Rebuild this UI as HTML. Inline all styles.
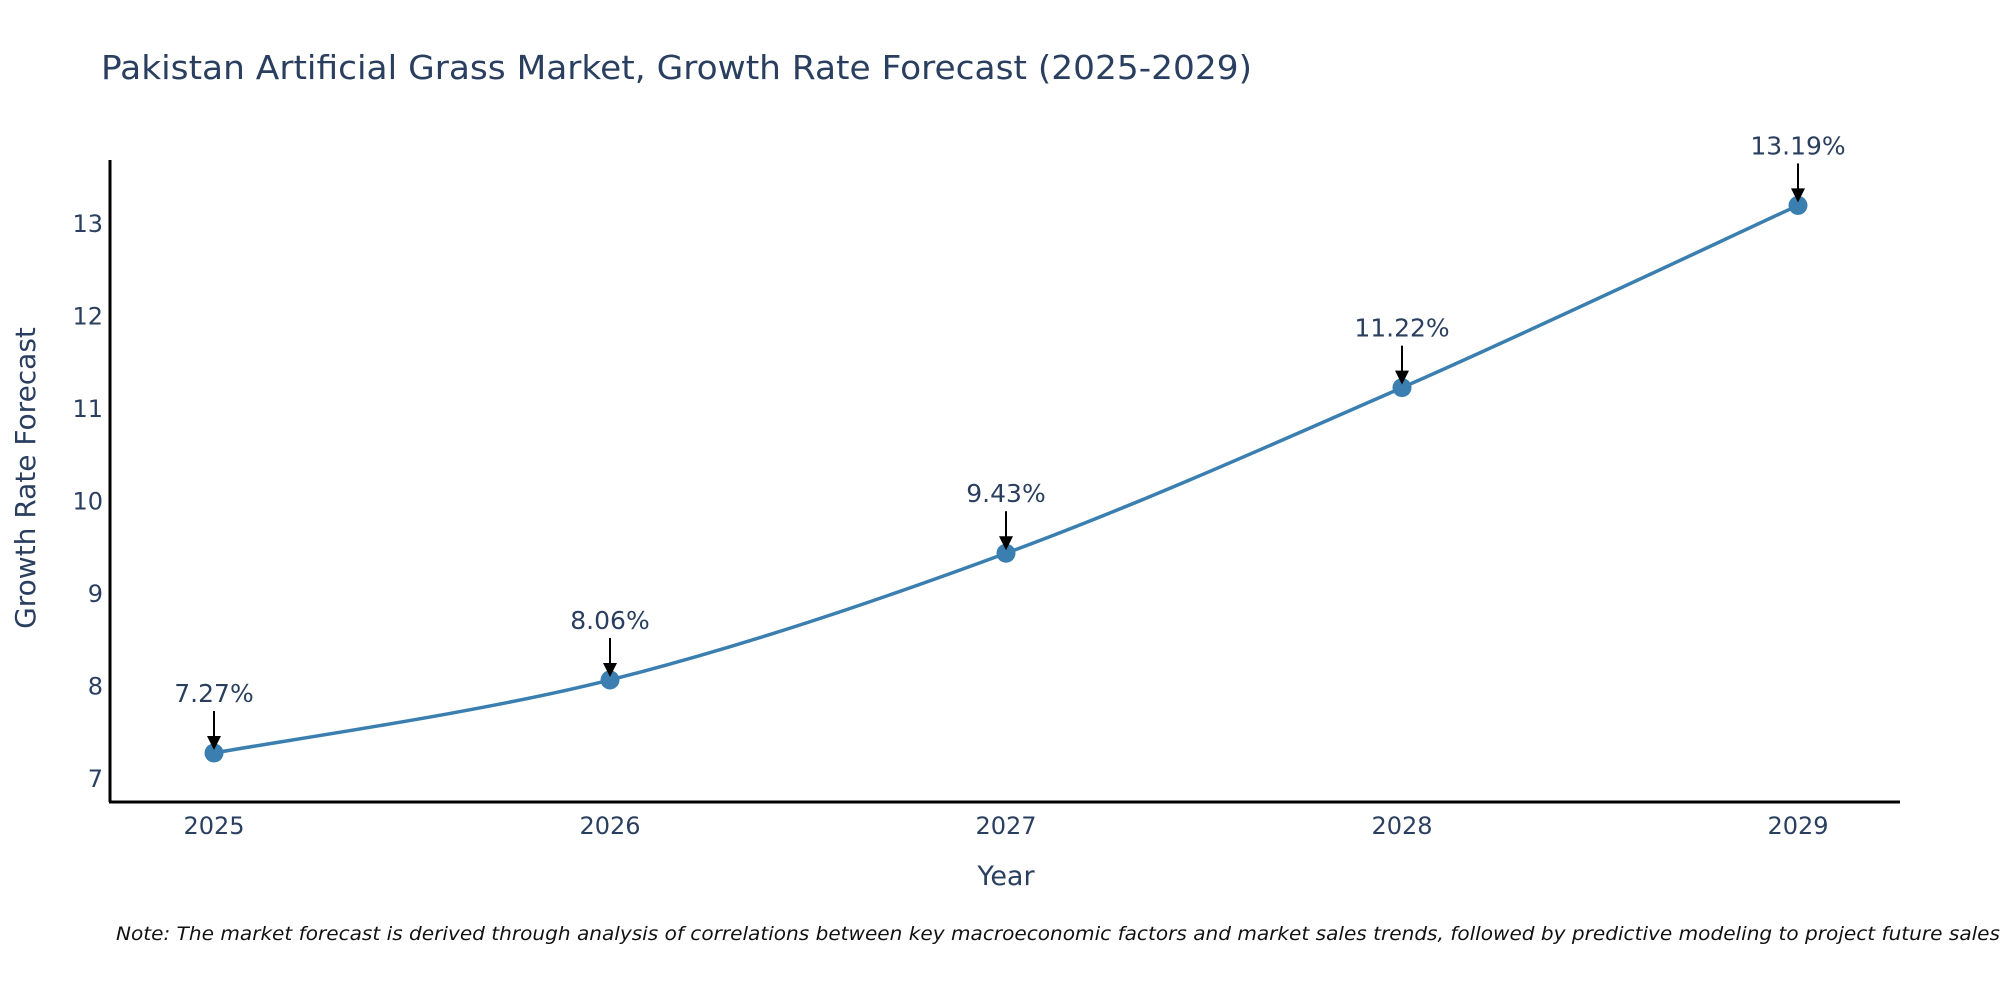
<!DOCTYPE html>
<html><head><meta charset="utf-8">
<style>
html,body{margin:0;padding:0;background:#fff;}
svg{display:block;font-family:"DejaVu Sans","Liberation Sans",sans-serif;}
</style></head>
<body>
<svg id="chart" width="2000" height="1000" viewBox="0 0 2000 1000" xmlns="http://www.w3.org/2000/svg">
  <rect width="2000" height="1000" fill="#fff"/>
  <text x="101" y="79" font-size="33" fill="#2a3f5f" textLength="1151" lengthAdjust="spacingAndGlyphs">Pakistan Artificial Grass Market, Growth Rate Forecast (2025-2029)</text>
  <g id="yticks"></g>
  <g id="xticks"></g>
  <line x1="110" y1="160" x2="110" y2="802" stroke="#000" stroke-width="3"/>
  <line x1="109" y1="802" x2="1900" y2="802" stroke="#000" stroke-width="3"/>
  <text transform="translate(35,478) rotate(-90)" text-anchor="middle" font-size="28" fill="#2a3f5f">Growth Rate Forecast</text>
  <text x="1006" y="885" text-anchor="middle" font-size="27" fill="#2a3f5f">Year</text>
  <g id="series"></g>
  <text x="116" y="940" font-size="19" font-style="italic" fill="#111" textLength="1884" lengthAdjust="spacingAndGlyphs">Note: The market forecast is derived through analysis of correlations between key macroeconomic factors and market sales trends, followed by predictive modeling to project future sales</text>
</svg>
<script>
const years = ["2025","2026","2027","2028","2029"];
const values = [7.27, 8.06, 9.43, 11.22, 13.19];
const valueLabels = ["7.27%","8.06%","9.43%","11.22%","13.19%"];
const yTicks = [7, 8, 9, 10, 11, 12, 13];

const NS = "http://www.w3.org/2000/svg";
function xScale(i){ return 214 + i * 396; }
function yScale(v){ return 778 - (v - 7) * 92.5; }
function mk(tag, attrs, parent){
  const e = document.createElementNS(NS, tag);
  for (const k in attrs) e.setAttribute(k, attrs[k]);
  parent.appendChild(e);
  return e;
}
const yt = document.getElementById("yticks");
yTicks.forEach(t => {
  const e = mk("text", {x: 103, y: yScale(t) + 9, "text-anchor": "end", "font-size": 24, fill: "#2a3f5f"}, yt);
  
  
  e.textContent = t;
});
const xt = document.getElementById("xticks");
years.forEach((y, i) => {
  const e = mk("text", {x: xScale(i), y: 834, "text-anchor": "middle", "font-size": 24, fill: "#2a3f5f"}, xt);
  
  
  e.textContent = y;
});
const g = document.getElementById("series");
const pts = values.map((v, i) => [xScale(i), yScale(v)]);
let d = "M" + pts[0][0] + "," + pts[0][1];
for (let i = 0; i < pts.length - 1; i++) {
  const p0 = pts[Math.max(0, i - 1)], p1 = pts[i], p2 = pts[i + 1], p3 = pts[Math.min(pts.length - 1, i + 2)];
  const c1x = p1[0] + (p2[0] - p0[0]) / 6, c1y = p1[1] + (p2[1] - p0[1]) / 6;
  const c2x = p2[0] - (p3[0] - p1[0]) / 6, c2y = p2[1] - (p3[1] - p1[1]) / 6;
  d += " C" + c1x + "," + c1y + " " + c2x + "," + c2y + " " + p2[0] + "," + p2[1];
}
const line = mk("path", {d: d, fill: "none", stroke: "#3a7fb0", "stroke-width": 3.5}, g);


pts.forEach((p, i) => {
  const c = mk("circle", {cx: p[0], cy: p[1], r: 9.5, fill: "#3a7fb0"}, g);
  
  
  const a = mk("line", {x1: p[0], y1: p[1] - 42, x2: p[0], y2: p[1] - 14, stroke: "#000", "stroke-width": 2}, g);
  
  
  const h = mk("polygon", {points: (p[0]-7)+","+(p[1]-17)+" "+(p[0]+7)+","+(p[1]-17)+" "+p[0]+","+(p[1]-3), fill: "#000"}, g);
  
  
  const t = mk("text", {x: p[0], y: p[1] - 51, "text-anchor": "middle", "font-size": 25, fill: "#2a3f5f"}, g);
  
  
  t.textContent = valueLabels[i];
});
</script>
</body></html>
